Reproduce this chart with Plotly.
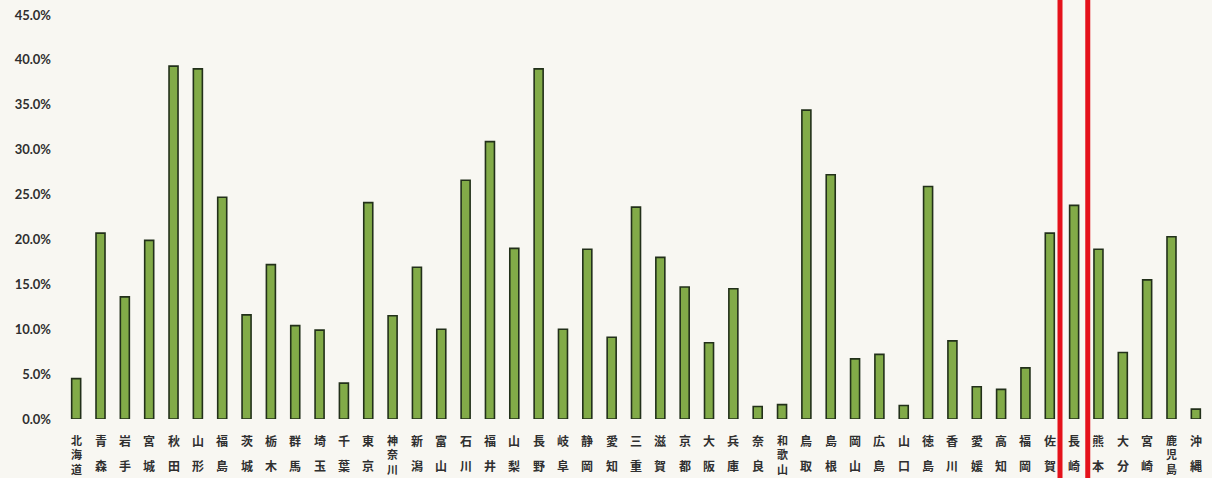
import plotly.graph_objects as go

prefectures = [
    "北海道", "青森", "岩手", "宮城", "秋田", "山形", "福島", "茨城", "栃木", "群馬",
    "埼玉", "千葉", "東京", "神奈川", "新潟", "富山", "石川", "福井", "山梨", "長野",
    "岐阜", "静岡", "愛知", "三重", "滋賀", "京都", "大阪", "兵庫", "奈良", "和歌山",
    "鳥取", "島根", "岡山", "広島", "山口", "徳島", "香川", "愛媛", "高知", "福岡",
    "佐賀", "長崎", "熊本", "大分", "宮崎", "鹿児島", "沖縄",
]
rates = [
    4.5, 20.7, 13.6, 19.9, 39.3, 39.0, 24.7, 11.6, 17.2, 10.4,
    9.9, 4.0, 24.1, 11.5, 16.9, 10.0, 26.6, 30.9, 19.0, 39.0,
    10.0, 18.9, 9.1, 23.6, 18.0, 14.7, 8.5, 14.5, 1.4, 1.6,
    34.4, 27.2, 6.7, 7.2, 1.5, 25.9, 8.7, 3.6, 3.3, 5.7,
    20.7, 23.8, 18.9, 7.4, 15.5, 20.3, 1.1,
]
y_ticks = [0, 5, 10, 15, 20, 25, 30, 35, 40, 45]
highlight = "長崎"

BG = "#f8f7f2"
TEXT = "#2f2f2f"
CJK = "Noto Sans CJK JP"

fig = go.Figure()
fig.add_trace(go.Bar(
    x=list(range(len(prefectures))),
    y=rates,
    width=0.37,
    marker=dict(color="#82ab48", line=dict(color="#22301a", width=1.6)),
    hoverinfo="skip",
))

# vertical labels under each bar, one character per annotation
for i, name in enumerate(prefectures):
    three = len(name) >= 3
    step = 14.3 if three else 25
    size = 11 if three else 12
    for j, ch in enumerate(name):
        fig.add_annotation(
            x=i, xref="x", y=0, yref="paper",
            text=ch, showarrow=False,
            xanchor="center", yanchor="middle",
            yshift=-(21 + j * step),
            font=dict(family=CJK, size=size, color=TEXT, weight="bold"),
        )

# red frame around the highlighted prefecture
hi = prefectures.index(highlight)
for dx in (-0.58, 0.56):
    fig.add_shape(
        type="line", xref="x", yref="paper", layer="above",
        x0=hi + dx, x1=hi + dx, y0=-0.2, y1=1.1,
        line=dict(color="#e5121b", width=5),
    )

fig.update_layout(
    width=1212, height=478,
    margin=dict(l=64, r=4, t=15, b=59),
    paper_bgcolor=BG, plot_bgcolor=BG,
    showlegend=False,
)
fig.update_xaxes(
    range=[-0.5, len(prefectures) - 0.5],
    showticklabels=False, showgrid=False, zeroline=False, showline=False,
)
fig.update_yaxes(
    range=[0, 45],
    tickvals=y_ticks,
    ticktext=[f"{v:.1f}%" for v in y_ticks],
    tickfont=dict(family="Lato", size=13, color=TEXT, weight="bold"),
    ticklabelstandoff=12,
    showgrid=False, zeroline=False, showline=False,
)

fig.write_html("out.html")
